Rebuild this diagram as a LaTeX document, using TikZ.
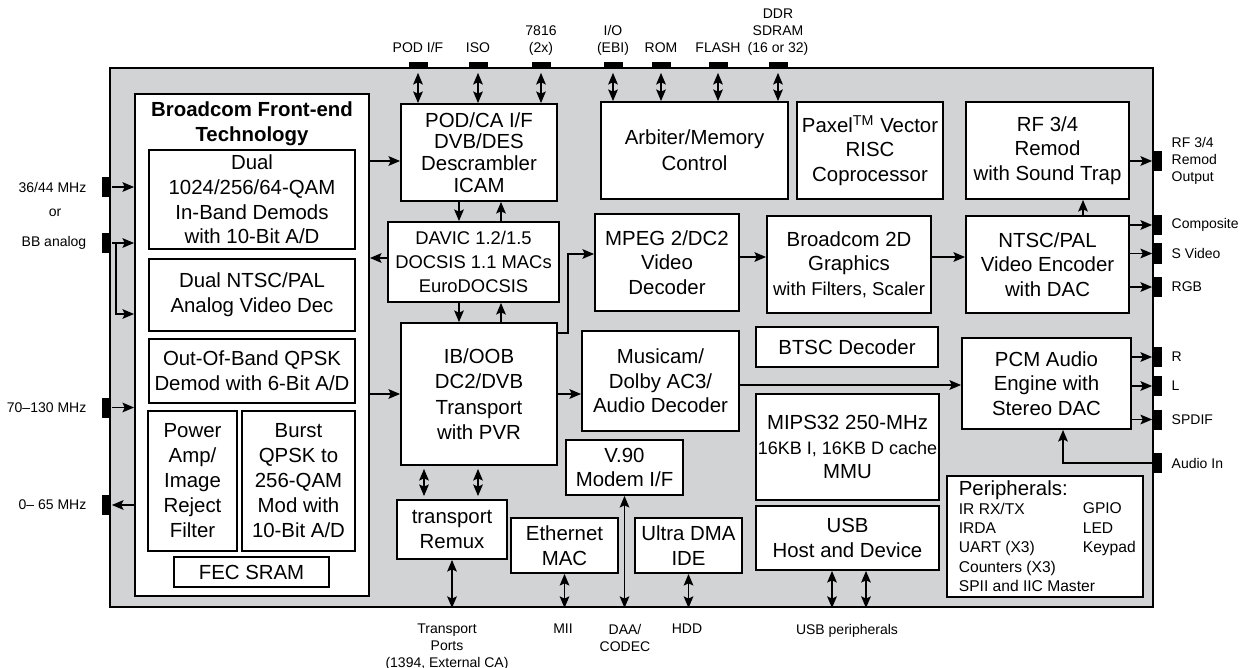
\documentclass[tikz,border=0pt]{standalone}
\usepackage{fontspec}
\setmainfont{Liberation Sans}
\usepackage{tikz}
\usetikzlibrary{arrows.meta,positioning}
\definecolor{chipgray}{RGB}{209,211,212}

\begin{document}
\begin{tikzpicture}[
    x=0.5pt, y=-0.5pt,
    line width=0.85pt,
    >={Stealth[length=5.8pt,width=4.8pt,inset=1.1pt]},
    chip/.style={draw, fill=chipgray, line width=1pt, inner sep=0pt},
    blk/.style={draw, fill=white, line width=0.9pt, inner sep=0pt, align=center, font=\fontsize{10.2}{12.3}\selectfont},
    iopad/.style={fill=black, inner sep=0pt, minimum width=9.5pt, minimum height=3pt},
    sidepad/.style={fill=black, inner sep=0pt, minimum width=4.5pt, minimum height=10pt},
    padlbl/.style={inner sep=0pt, align=center, font=\fontsize{7}{8.5}\selectfont},
    toplbl/.style={padlbl, execute at end node={\vphantom{()}}},
    perlist/.style={anchor=north west, inner sep=0pt, align=left, font=\fontsize{7.8}{9.7}\selectfont}
]
\useasboundingbox (0,0) rectangle (1241,668);

% chip outline
\node[chip, minimum width=521.5pt, minimum height=269.5pt] (chip) at (631.5,337.5) {};

% front end
\node[blk, minimum width=117pt, minimum height=251pt] (fe) at (252,345) {};
\node[below=4pt of fe.north, inner sep=0pt, align=center, font=\bfseries\fontsize{10.2}{12.5}\selectfont] (fetitle) {Broadcom Front-end\\Technology};
\node[blk, minimum width=103pt, minimum height=49.5pt] (qam) at (252,199.5) {Dual\\1024/256/64-QAM\\In-Band Demods\\with 10-Bit A/D};
\node[blk, minimum width=103pt, minimum height=36pt] (anadec) at (252,295) {Dual NTSC/PAL\\Analog Video Dec};
\node[blk, minimum width=103pt, minimum height=32pt] (oob) at (252,371) {Out-Of-Band QPSK\\Demod with 6-Bit A/D};
\node[blk, minimum width=44.5pt, minimum height=70pt, font=\fontsize{10.2}{12.5}\selectfont] (pwr) at (192.5,481) {Power\\Amp/\\Image\\Reject\\Filter};
\node[blk, minimum width=56.5pt, minimum height=70pt, font=\fontsize{10.2}{12.5}\selectfont] (burst) at (298.5,481) {Burst\\QPSK to\\256-QAM\\Mod with\\10-Bit A/D};
\node[blk, minimum width=77.5pt, minimum height=15pt] (fec) at (251.5,572) {FEC SRAM};

% transport side
\node[blk, minimum width=78pt, minimum height=48.5pt, font=\fontsize{10.2}{10.9}\selectfont] (pod) at (479,152.5) {POD/CA I/F\\DVB/DES\\Descrambler\\ICAM};
\node[blk, minimum width=85.5pt, minimum height=40pt, font=\fontsize{9.2}{12}\selectfont] (davic) at (473.5,262) {DAVIC 1.2/1.5\\DOCSIS 1.1 MACs\\EuroDOCSIS};
\node[blk, minimum width=78pt, minimum height=71pt, font=\fontsize{10.2}{12.7}\selectfont] (ib) at (479,394) {IB/OOB\\DC2/DVB\\Transport\\with PVR};
\node[blk, minimum width=55pt, minimum height=29.5pt] (remux) at (452,529.5) {transport\\Remux};

% decoders and memory
\node[blk, minimum width=93.5pt, minimum height=48.5pt, font=\fontsize{10.2}{13}\selectfont] (arb) at (694.5,150.5) {Arbiter/Memory\\Control};
\node[blk, minimum width=73pt, minimum height=48.5pt] (paxel) at (870,150.5) {Paxel\textsuperscript{TM} Vector\\RISC\\Coprocessor};
\node[blk, minimum width=81.5pt, minimum height=48.5pt] (rf) at (1047.5,150.5) {RF 3/4\\Remod\\with Sound Trap};
\node[blk, minimum width=72pt, minimum height=48.5pt] (mpeg) at (667,262.5) {MPEG 2/DC2\\Video\\Decoder};
\node[blk, minimum width=82pt, minimum height=48.5pt] (gfx) at (849,264.5) {Broadcom 2D\\Graphics\\{\fontsize{9.3}{12.3}\selectfont with Filters, Scaler}};
\node[blk, minimum width=81.5pt, minimum height=48.5pt] (enc) at (1047.5,264.5) {NTSC/PAL\\Video Encoder\\with DAC};
\node[blk, minimum width=78.5pt, minimum height=50pt] (musicam) at (660.5,381) {Musicam/\\Dolby AC3/\\Audio Decoder};
\node[blk, minimum width=91pt, minimum height=20pt] (btsc) at (847,347) {BTSC Decoder};
\node[blk, minimum width=84.5pt, minimum height=45.5pt] (pcm) at (1046.5,383.5) {PCM Audio\\Engine with\\Stereo DAC};
\node[blk, minimum width=58.5pt, minimum height=27.5pt] (v90) at (624.5,467.5) {V.90\\Modem I/F};
\node[blk, minimum width=53.5pt, minimum height=27.5pt] (eth) at (564.5,545.5) {Ethernet\\MAC};
\node[blk, minimum width=53.5pt, minimum height=27.5pt] (ide) at (688.5,545.5) {Ultra DMA\\IDE};
\node[blk, minimum width=91.5pt, minimum height=53pt] (mips) at (847.5,447) {MIPS32 250-MHz\\{\fontsize{9}{12.3}\selectfont 16KB I, 16KB D cache}\\MMU};
\node[blk, minimum width=91.5pt, minimum height=32pt] (usb) at (847.5,538) {USB\\Host and Device};

% peripherals
\node[blk, minimum width=98pt, minimum height=60.5pt] (periph) at (1045,536.5) {};
\node[anchor=north west, inner sep=0pt, font=\fontsize{10.2}{12}\selectfont] (perhead) at (958,480) {Peripherals:};
\node[perlist] (perleft) at (958,502) {IR RX/TX\\IRDA\\UART (X3)\\Counters (X3)\\SPII and IIC Master};
\node[perlist] (perright) at (1082,502) {GPIO\\LED\\Keypad};

% pads on top
\node[iopad] (tpod) at (418,65) {};
\node[iopad] (tiso) at (478,65) {};
\node[iopad] (tsc) at (541,65) {};
\node[iopad] (tebi) at (613,65) {};
\node[iopad] (trom) at (661,65) {};
\node[iopad] (tflash) at (718,65) {};
\node[iopad] (tddr) at (778,65) {};
\node[toplbl, above=2.5pt of tpod] {POD I/F};
\node[toplbl, above=2.5pt of tiso] {ISO};
\node[toplbl, above=2.5pt of tsc] {7816\\(2x)};
\node[toplbl, above=2.5pt of tebi] {I/O\\(EBI)};
\node[toplbl, above=2.5pt of trom] {ROM};
\node[toplbl, above=2.5pt of tflash] {FLASH};
\node[toplbl, above=2.5pt of tddr] {DDR\\SDRAM\\(16 or 32)};

% pads on the left
\node[sidepad] (in3644) at (106.5,187) {};
\node[sidepad] (inbb) at (106.5,243) {};
\node[sidepad] (in70) at (106.5,407.5) {};
\node[sidepad] (out065) at (106.5,505) {};
\node[padlbl, left=7pt of in3644] {36/44 MHz};
\node[padlbl] (orlbl) at (55,213) {or};
\node[padlbl, left=7pt of inbb] {BB analog};
\node[padlbl, left=7pt of in70] {70--130 MHz};
\node[padlbl, left=7pt of out065] {0-- 65 MHz};

% pads on the right
\node[sidepad] (orf) at (1157.5,161) {};
\node[sidepad] (ocomp) at (1157.5,225) {};
\node[sidepad] (osvid) at (1157.5,253.5) {};
\node[sidepad] (orgb) at (1157.5,287) {};
\node[sidepad] (oR) at (1157.5,357) {};
\node[sidepad] (oL) at (1157.5,386) {};
\node[sidepad] (ospdif) at (1157.5,419.5) {};
\node[sidepad] (iaud) at (1157.5,463) {};
\node[padlbl, align=left, right=4pt of orf] {RF 3/4\\Remod\\Output};
\node[padlbl, right=4pt of ocomp] {Composite};
\node[padlbl, right=4pt of osvid] {S Video};
\node[padlbl, right=4pt of orgb] {RGB};
\node[padlbl, right=4pt of oR] {R};
\node[padlbl, right=4pt of oL] {L};
\node[padlbl, right=4pt of ospdif] {SPDIF};
\node[padlbl, right=4pt of iaud] {Audio In};

% labels below
\node[padlbl, anchor=north] (ltport) at (447,623) {Transport\\Ports\\(1394, External CA)};
\node[padlbl, anchor=north] (lmii) at (563,623) {MII};
\node[padlbl, anchor=north] (ldaa) at (625,623) {DAA/\\CODEC};
\node[padlbl, anchor=north] (lhdd) at (687,623) {HDD};
\node[padlbl, anchor=north] (lusb) at (847,623) {USB peripherals};

% top buses
\foreach \p in {tpod,tiso,tsc}
    \draw[<->, shorten <=2pt] (\p.south) -- (\p.south |- pod.north);
\foreach \p in {tebi,trom,tflash,tddr}
    \draw[<->, shorten <=2pt] (\p.south) -- (\p.south |- arb.north);

% front-end inputs
\draw[->] (in3644.east) -- (in3644 -| fe.west);
\draw[->] (inbb.east) -- (inbb -| fe.west);
\coordinate (bbsplit) at (116,243);
\draw[->] (bbsplit) |- (fe.west |- 0,314);
\draw[->] (in70.east) -- (in70 -| fe.west);
\draw[->] (out065 -| fe.west) -- (out065.east);

% data path
\draw[->] (fe.east |- 0,161) -- (pod.west |- 0,161);
\draw[->] (davic.west |- 0,258) -- (fe.east |- 0,258);
\draw[->] (fe.east |- 0,394) -- (ib.west |- 0,394);
\draw[->] (pod.south -| 459,0) -- (davic.north -| 459,0);
\draw[<-] (pod.south -| 501,0) -- (davic.north -| 501,0);
\draw[->] (davic.south -| 459,0) -- (ib.north -| 459,0);
\draw[<-] (davic.south -| 501,0) -- (ib.north -| 501,0);
\draw[->] (ib.east |- 0,333) -- ++(10,0) |- (mpeg.west |- 0,254);
\draw[->] (ib.east |- 0,394) -- (musicam.west |- 0,394);
\draw[->] (mpeg.east |- 0,257) -- (gfx.west |- 0,257);
\draw[->] (gfx.east |- 0,257) -- (enc.west |- 0,257);
\draw[->] (enc.north -| 1083,0) -- (rf.south -| 1083,0);
\draw[->] (musicam.east |- 0,385) -- (pcm.west |- 0,385);
\draw[->] (iaud.west) -| (pcm.south -| 1063,0);

% outputs
\draw[->] (rf.east |- orf) -- (orf.west);
\foreach \p in {ocomp,osvid,orgb}
    \draw[->] (enc.east |- \p) -- (\p.west);
\foreach \p in {oR,oL,ospdif}
    \draw[->] (pcm.east |- \p) -- (\p.west);

% bottom buses
\draw[<->, shorten <=1.5pt, shorten >=1.5pt] (ib.south -| 424,0) -- (remux.north -| 424,0);
\draw[<->, shorten <=1.5pt, shorten >=1.5pt] (ib.south -| 478,0) -- (remux.north -| 478,0);
\draw[<->] (remux.south) -- (remux.south |- chip.south);
\draw[<->] (eth.south) -- (eth.south |- chip.south);
\draw[<->] (v90.south) -- (v90.south |- chip.south);
\draw[<->] (ide.south) -- (ide.south |- chip.south);
\draw[<->] (usb.south -| 832,0) -- (chip.south -| 832,0);
\draw[<->] (usb.south -| 866,0) -- (chip.south -| 866,0);

\end{tikzpicture}
\end{document}
